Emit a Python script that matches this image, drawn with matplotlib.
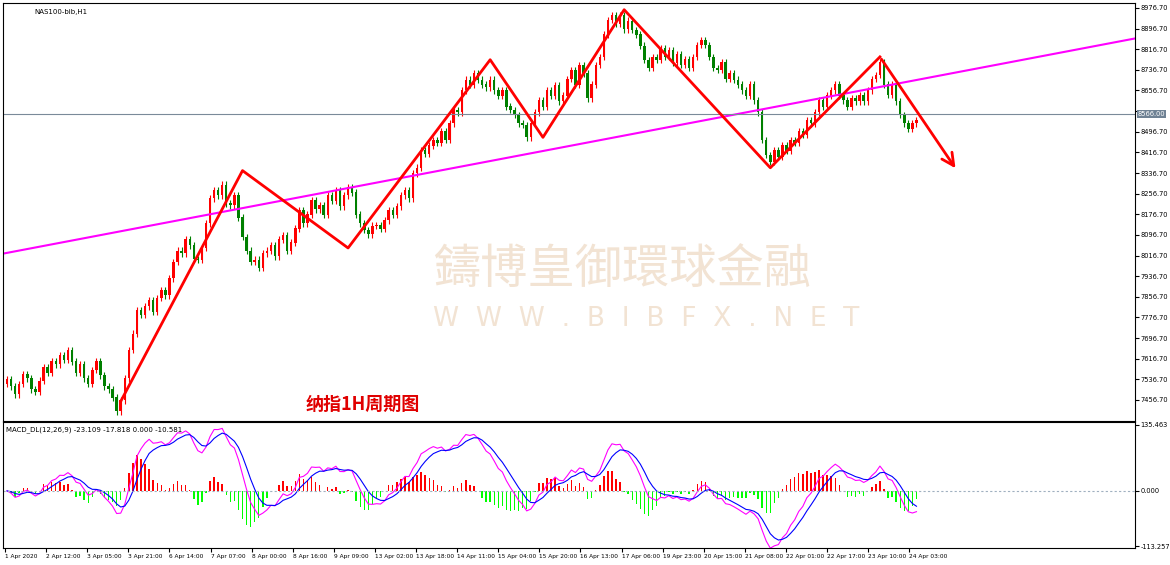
import matplotlib
matplotlib.use("Agg")
import matplotlib.pyplot as plt
import numpy as np
import pandas as pd

closes = [7535,7510,7478,7519,7557,7541,7498,7487,7531,7584,7562,7605,7595,7631,7611,
 7650,7605,7562,7595,7541,7519,7573,7605,7552,7510,7498,7466,7412,7455,
 7541,7650,7713,7805,7788,7820,7844,7799,
 7852,7882,7863,7928,7992,8035,8025,8078,8056,8003,8000,8046,
 8142,8239,8271,8250,8291,8218,8212,8250,8164,8089,
 8035,7992,8000,7970,8025,8035,8056,8013,8078,8096,8035,8067,
 8121,8193,8142,8175,8232,8196,8212,8175,8250,8228,8271,8207,8250,8282,8261,
 8175,8142,8116,8099,8132,8135,8121,8153,8193,8175,8207,8250,8271,
 8239,8336,8357,8426,8411,8443,8465,8454,8497,8465,
 8529,8581,8572,8658,8698,8679,8722,8698,8679,8669,8698,8658,
 8637,8658,8594,8581,8562,8529,8523,8475,8529,8572,8619,8594,
 8658,8637,8678,8615,8637,8701,8736,8679,8755,8722,8626,8679,8755,8787,
 8873,8930,8948,8916,8949,8894,8927,8891,8873,8830,
 8775,8744,8787,8775,8819,8787,8814,8765,8797,8755,8776,8744,8787,8833,
 8851,8833,8787,8744,8736,8765,8701,8722,8698,8679,8658,8637,8679,8619,
 8572,8465,8407,8379,8426,8400,8443,8422,8465,8454,
 8497,8486,8542,8529,8572,8619,8594,8637,8658,8679,8637,8619,8594,8626,8615,8639,
 8615,8658,8701,8717,8765,8679,8639,8679,8615,8562,8529,8508,8529,8542]
first_open = 7519
wick = 13

time_labels = ["1 Apr 2020","2 Apr 12:00","3 Apr 05:00","3 Apr 21:00","6 Apr 14:00","7 Apr 07:00",
 "8 Apr 00:00","8 Apr 16:00","9 Apr 09:00","13 Apr 02:00","13 Apr 18:00","14 Apr 11:00",
 "15 Apr 04:00","15 Apr 20:00","16 Apr 13:00","17 Apr 06:00","19 Apr 23:00","20 Apr 15:00",
 "21 Apr 08:00","22 Apr 01:00","22 Apr 17:00","23 Apr 10:00","24 Apr 03:00"]
price_ticks = [8976.7,8896.7,8816.7,8736.7,8656.7,8576.7,8496.7,8416.7,8336.7,8256.7,8176.7,
 8096.7,8016.7,7936.7,7856.7,7776.7,7696.7,7616.7,7536.7,7456.7]
zig_idx = [28,58,84,119,132,152,188,215,234]
zig_px = [7451,8346,8046,8776,8475,8970,8357,8787,8346]
trend_idx = [-1, 278]
trend_px = [8024, 8859]
hline = 8566

W, H = 1170, 565
fig = plt.figure(figsize=(W/100, H/100), dpi=100)
fig.patch.set_facecolor("white")
pxw = 4.06
xl = (-0.5 - 2/pxw, -0.5 + 1130/pxw)
ax = fig.add_axes([3/W, (565-421)/H, 1132/W, 418/H])
ax2 = fig.add_axes([3/W, (565-548)/H, 1132/W, 126/H])

c = np.array(closes, float)
o = np.concatenate([[first_open], c[:-1]])
hi = np.maximum(o, c) + wick
lo = np.minimum(o, c) - wick
x = np.arange(len(c))
up = c >= o
col = np.where(up, "#ff0000", "#008000")
ax.vlines(x, lo, hi, colors=col, lw=0.8)
ax.bar(x, np.abs(c-o)+1, bottom=np.minimum(o, c), width=0.6, color=col, lw=0)
ax.set_xlim(*xl)
ylo, yhi = 7375, 8996
ax.set_ylim(ylo, yhi)
ax.plot(trend_idx, trend_px, color="#ff00ff", lw=1.5)
ax.axhline(hline, color="#7a8a99", lw=0.8)
ax.plot(zig_idx[:-1], zig_px[:-1], color="#ff0000", lw=2)
ax.annotate("", xy=(zig_idx[-1], zig_px[-1]), xytext=(zig_idx[-2], zig_px[-2]),
            arrowprops=dict(arrowstyle="->", color="#ff0000", lw=2, mutation_scale=22))
ax.text(0.38, 0.36, "鑄博皇御環球金融", transform=ax.transAxes, fontsize=34, color="#f2e3d3",
        family=["Noto Sans CJK TC"], ha="left", va="center", zorder=0)
ax.text(0.38, 0.245, "W  W  W  .  B  I  B  F  X  .  N  E  T", transform=ax.transAxes, fontsize=19,
        color="#f2e3d3", ha="left", va="center", zorder=0)
ax.text(0.267, 0.04, "纳指1H周期图", transform=ax.transAxes, fontsize=13, color="#e00000",
        family=["Noto Sans CJK SC"], fontweight="bold", ha="left", va="center")
ax.text(0.028, 0.985, "NAS100-bib,H1", transform=ax.transAxes, fontsize=5, va="top")
ax.set_yticks(price_ticks)
ax.set_yticklabels([("" if abs(v - hline) < 15 else f"{v:.2f}") for v in price_ticks], fontsize=4.8)
ax.yaxis.tick_right()
ax.tick_params(axis="y", length=3, pad=1)
ax.set_xticks([])
ax.text(1.002, (hline-ylo)/(yhi-ylo), f"{hline:.2f}", transform=ax.transAxes, fontsize=4.8,
        color="white", va="center", bbox=dict(fc="#6f8294", ec="none", pad=0.5), zorder=5)

s = pd.Series(c)
macd = s.ewm(span=6, adjust=False).mean() - s.ewm(span=13, adjust=False).mean()
sig = macd.ewm(span=5, adjust=False).mean()
hist = (macd - sig) * 2
pos = hist > 0
ax2.bar(x[pos], hist[pos], width=0.35, color="#ff0000", lw=0)
ax2.bar(x[~pos], hist[~pos], width=0.35, color="#00ff00", lw=0)
ax2.plot(x, macd*1.3, color="#ff00ff", lw=0.8)
ax2.plot(x, sig*1.3, color="#0000ff", lw=0.8)
ax2.axhline(0, color="#a0b0c0", lw=0.8, ls=(0, (2, 2)))
ax2.set_xlim(*xl)
ax2.set_ylim(-117.3, 141.6)
ax2.yaxis.tick_right()
ax2.set_yticks([135.463, 0, -113.257])
ax2.set_yticklabels(["135.463", "0.000", "-113.257"], fontsize=4.8)
ax2.tick_params(axis="y", length=3, pad=1)
ticks = [(3 + 41.1*i - 5)/pxw for i in range(len(time_labels))]
ax2.set_xticks(ticks)
ax2.set_xticklabels(time_labels, fontsize=4.2, ha="left")
ax2.tick_params(axis="x", length=3, pad=1)
ax2.text(0.003, 0.97, "MACD_DL(12,26,9) -23.109 -17.818 0.000 -10.581", transform=ax2.transAxes,
         fontsize=5, va="top")
for a in (ax, ax2):
    for sp in a.spines.values():
        sp.set_linewidth(0.8)
fig.savefig("out.png", dpi=100)
